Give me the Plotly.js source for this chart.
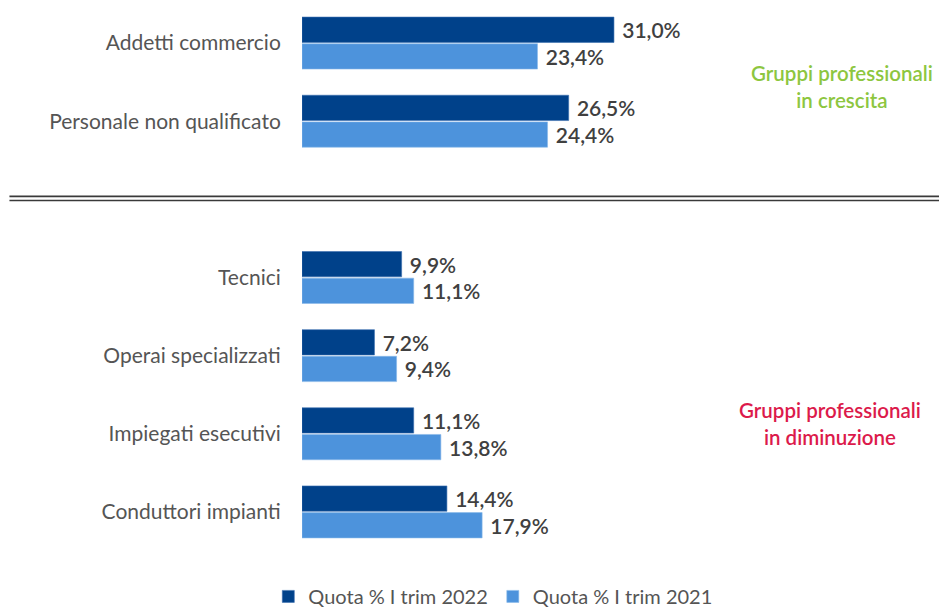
<!DOCTYPE html>
<html>
<head>
<meta charset="utf-8">
<script src="https://cdn.plot.ly/plotly-3.0.1.min.js"></script>
<style>
html,body{margin:0;padding:0;background:#fff;}
#chart{width:939px;height:610px;}
</style>
</head>
<body>
<div id="chart"></div>
<script>
// Data
var categories = ["Addetti commercio", "Personale non qualificato", "Tecnici", "Operai specializzati", "Impiegati esecutivi", "Conduttori impianti"];
var quota2022 = [31.0, 26.5, 9.9, 7.2, 11.1, 14.4];
var quota2021 = [23.4, 24.4, 11.1, 9.4, 13.8, 17.9];
var seriesNames = ["Quota % I trim 2022", "Quota % I trim 2021"];
var groupLabels = ["Gruppi professionali<br>in crescita", "Gruppi professionali<br>in diminuzione"];
var growingCount = 2; // first two categories are "in crescita"

// slot positions: one empty slot between the two groups
var slots = categories.map(function(c, i){ return i < growingCount ? i : i + 1; });

var FONT = "Lato, 'Source Sans Pro', 'Noto Sans', sans-serif";
var labelColor = "#555555";
var valueColor = "#404040";

function barTrace(name, values, color, lineColor) {
  return {
    type: "bar", orientation: "h",
    name: name,
    x: values, y: slots,
    marker: {color: color, line: {color: lineColor, width: 0.6}},
    text: values, texttemplate: " %{x:.1f}%", textposition: "outside",
    textfont: {family: FONT, size: 21, color: valueColor, weight: 600},
    cliponaxis: false, constraintext: "none",
    hoverinfo: "skip"
  };
}
var trace2022 = barTrace(seriesNames[0], quota2022, "#00418a", "#3a6fb0");
var trace2021 = barTrace(seriesNames[1], quota2021, "#4d93dc", "#8ab8ea");

var layout = {
  width: 939, height: 610,
  margin: {l: 302, r: 1, t: 4, b: 59, pad: 0, autoexpand: false},
  paper_bgcolor: "#ffffff", plot_bgcolor: "#ffffff",
  separators: ",.",
  barmode: "group",
  bargap: 0.318,
  bargroupgap: 0.05,
  font: {family: FONT, size: 20, color: labelColor},
  showlegend: true,
  legend: {
    orientation: "h", x: 0.30, xanchor: "center", y: -0.083, yanchor: "middle",
    font: {family: FONT, size: 20, color: labelColor},
    traceorder: "normal", itemwidth: 30
  },
  xaxis: {
    range: [0, 63.2], showgrid: false, zeroline: false, showline: false,
    showticklabels: false, ticks: "", fixedrange: true
  },
  yaxis: {
    range: [6.5, -0.5], tickmode: "array", tickvals: slots, ticktext: categories,
    showgrid: false, zeroline: false, showline: false,
    ticks: "outside", ticklen: 16, tickcolor: "rgba(0,0,0,0)",
    tickfont: {family: FONT, size: 21, color: labelColor},
    fixedrange: true
  },
  shapes: [
    {type: "line", xref: "paper", yref: "y", x0: -0.46, x1: 1.01, y0: 1.962, y1: 1.962,
     line: {color: "#3a3a3a", width: 1.6}},
    {type: "line", xref: "paper", yref: "y", x0: -0.46, x1: 1.01, y0: 2.015, y1: 2.015,
     line: {color: "#3a3a3a", width: 1.6}}
  ],
  annotations: [
    {xref: "paper", yref: "paper", x: 0.849, y: 0.85, xanchor: "center", yanchor: "middle",
     text: groupLabels[0], showarrow: false, align: "center",
     font: {family: FONT, size: 20.5, color: "#8dc63f", weight: 600}},
    {xref: "paper", yref: "paper", x: 0.830, y: 0.2336, xanchor: "center", yanchor: "middle",
     text: groupLabels[1], showarrow: false, align: "center",
     font: {family: FONT, size: 20.5, color: "#dc1a4b", weight: 600}}
  ]
};

Plotly.newPlot("chart", [trace2022, trace2021], layout, {displayModeBar: false, staticPlot: true});
</script>
</body>
</html>
